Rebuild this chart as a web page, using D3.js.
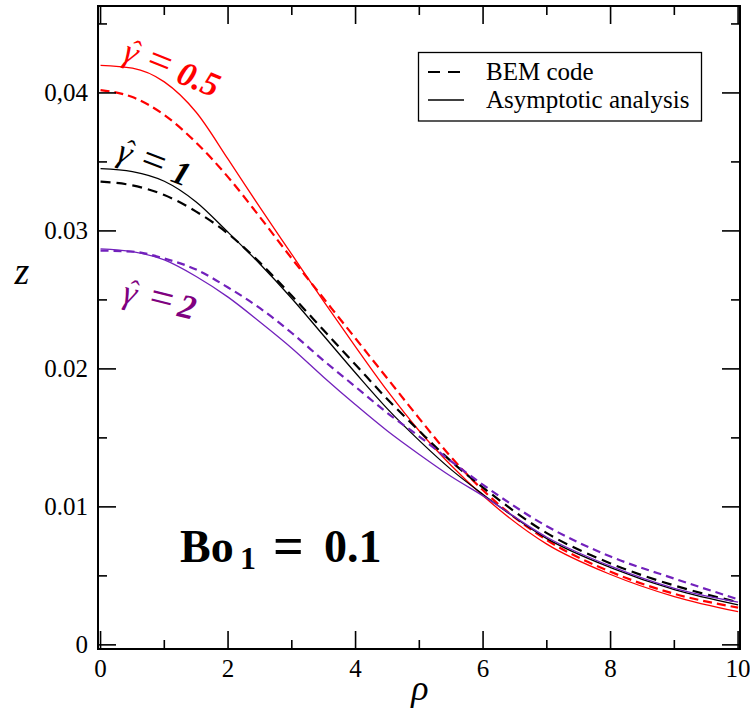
<!DOCTYPE html>
<html><head><meta charset="utf-8">
<script src="https://cdn.jsdelivr.net/npm/d3@7"></script>
<style>body{margin:0;background:#fff} text{font-family:"Liberation Serif","Tinos","Times New Roman","Nimbus Roman","DejaVu Serif",serif;}</style>
</head><body>
<svg id="c" width="750" height="709"></svg>
<script>
// ---- data ----
const rho   = [0, 0.5, 1, 1.5, 2, 2.5, 3, 3.5, 4, 4.5, 5, 5.5, 6, 7, 8, 9, 10];
const asy05 = [0.0420, 0.0418, 0.0408, 0.0386, 0.0352, 0.0317, 0.0283, 0.0249, 0.0216, 0.0184, 0.0155, 0.0130, 0.0108, 0.0073, 0.0051, 0.0035, 0.0024];
const bem05 = [0.0402, 0.0397, 0.0384, 0.0364, 0.0339, 0.0310, 0.0280, 0.0251, 0.0222, 0.0193, 0.0164, 0.0136, 0.0112, 0.0076, 0.0053, 0.0037, 0.0027];
const asy1  = [0.03452, 0.0343, 0.0336, 0.0321, 0.0299, 0.0276, 0.0251, 0.0224, 0.0197, 0.0171, 0.0148, 0.0127, 0.0109, 0.0077, 0.0056, 0.0040, 0.0029];
const bem1  = [0.03357, 0.0333, 0.0326, 0.0314, 0.0298, 0.0277, 0.0253, 0.0228, 0.0203, 0.0178, 0.0155, 0.0133, 0.0114, 0.0081, 0.0059, 0.0043, 0.0031];
const asy2  = [0.0287, 0.0285, 0.0279, 0.0267, 0.0252, 0.0234, 0.0215, 0.0194, 0.0174, 0.0155, 0.0138, 0.0122, 0.0108, 0.0078, 0.0057, 0.0041, 0.0031];
const bem2  = [0.02857, 0.0285, 0.0280, 0.0272, 0.0259, 0.0244, 0.0226, 0.0206, 0.0187, 0.0168, 0.0151, 0.0133, 0.0116, 0.0086, 0.0064, 0.0048, 0.0033];
const xTicks = [0, 2, 4, 6, 8, 10];
const xTickLabels = ["0", "2", "4", "6", "8", "10"];
const yTicks = [0, 0.01, 0.02, 0.03, 0.04];
const yTickLabels = ["0", "0.01", "0.02", "0.03", "0,04"];
const legendLabels = ["BEM code", "Asymptotic analysis"];

const RED = "#ff0000", BLACK = "#000000", PURPLE = "#7221bc", PURPLE_TXT = "#800080";
const series = [
  {y: asy05, color: RED, dash: null},
  {y: bem05, color: RED, dash: "9,5"},
  {y: asy1, color: BLACK, dash: null},
  {y: bem1, color: BLACK, dash: "10,6"},
  {y: asy2, color: PURPLE, dash: null},
  {y: bem2, color: PURPLE, dash: "8,5"}
];

const svg = d3.select("#c");
const L = 98, R = 740, T = 6, B = 649;
const x = d3.scaleLinear().domain([-0.04, 10.03]).range([L, R]);
const y = d3.scaleLinear().domain([-0.0003, 0.0463]).range([B, T]);

const g = svg.append("g");
svg.append("clipPath").attr("id", "clp").append("rect")
  .attr("x", L).attr("y", T).attr("width", R - L).attr("height", B - T);

const line = d3.line().x((d, i) => x(rho[i])).y(d => y(d)).curve(d3.curveMonotoneX);
g.append("g").attr("clip-path", "url(#clp)").selectAll("path").data(series).join("path")
  .attr("d", s => line(s.y))
  .attr("fill", "none")
  .attr("stroke", s => s.color)
  .attr("stroke-width", s => s.dash ? 2.2 : 1.3)
  .attr("stroke-dasharray", s => s.dash);

// ticks (inward, all four sides)
const xMinor = d3.range(1, 10, 2);
const yMinor = [0.005, 0.015, 0.025, 0.035, 0.045];
const tk = g.append("g").attr("stroke", "#000").attr("stroke-width", 1.6);
xTicks.forEach(v => {
  tk.append("line").attr("x1", x(v)).attr("x2", x(v)).attr("y1", B).attr("y2", B - 18);
  tk.append("line").attr("x1", x(v)).attr("x2", x(v)).attr("y1", T).attr("y2", T + 18);
});
xMinor.forEach(v => {
  tk.append("line").attr("x1", x(v)).attr("x2", x(v)).attr("y1", B).attr("y2", B - 9);
  tk.append("line").attr("x1", x(v)).attr("x2", x(v)).attr("y1", T).attr("y2", T + 9);
});
yTicks.forEach(v => {
  tk.append("line").attr("x1", L).attr("x2", L + 18).attr("y1", y(v)).attr("y2", y(v));
  tk.append("line").attr("x1", R).attr("x2", R - 18).attr("y1", y(v)).attr("y2", y(v));
});
yMinor.forEach(v => {
  tk.append("line").attr("x1", L).attr("x2", L + 9).attr("y1", y(v)).attr("y2", y(v));
  tk.append("line").attr("x1", R).attr("x2", R - 9).attr("y1", y(v)).attr("y2", y(v));
});

// frame
g.append("rect").attr("x", L).attr("y", T).attr("width", R - L).attr("height", B - T)
  .attr("fill", "none").attr("stroke", "#000").attr("stroke-width", 2);

// tick labels
g.append("g").selectAll("text").data(xTicks).join("text")
  .attr("x", d => x(d)).attr("y", 677).attr("text-anchor", "middle")
  .attr("font-size", 25)
  .text((d, i) => xTickLabels[i]);
g.append("g").selectAll("text").data(yTicks).join("text")
  .attr("x", 88).attr("y", d => y(d) + 8).attr("text-anchor", "end")
  .attr("font-size", 25)
  .text((d, i) => yTickLabels[i]);

// axis titles
g.append("text").attr("x", 420).attr("y", 700).attr("text-anchor", "middle")
  .attr("font-style", "italic").attr("font-size", 36).text("ρ");
g.append("text").attr("x", 22).attr("y", 284).attr("text-anchor", "middle")
  .attr("font-style", "italic").attr("font-size", 38).text("z");

// legend
const lg = g.append("g");
lg.append("rect").attr("x", 418.5).attr("y", 52.5).attr("width", 283).attr("height", 68.5)
  .attr("fill", "#fff").attr("stroke", "#000").attr("stroke-width", 1.3);
lg.append("line").attr("x1", 428).attr("x2", 464).attr("y1", 72).attr("y2", 72)
  .attr("stroke", "#000").attr("stroke-width", 2.2).attr("stroke-dasharray", "12,8");
lg.append("line").attr("x1", 428).attr("x2", 464).attr("y1", 100).attr("y2", 100)
  .attr("stroke", "#000").attr("stroke-width", 1.3);
lg.append("text").attr("x", 486).attr("y", 80).attr("font-size", 25).text(legendLabels[0]);
lg.append("text").attr("x", 486).attr("y", 108).attr("font-size", 25).text(legendLabels[1]);

// curve annotations
function ann(tx, ty, ang, color, num, eqX, numX) {
  const a = g.append("g").attr("transform", `translate(${tx},${ty}) rotate(${ang})`)
    .attr("fill", color).attr("font-size", 34);
  a.append("text").attr("x", 0).attr("y", 0).attr("font-style", "italic").text("γ");
  a.append("text").attr("x", 5).attr("y", -5).attr("font-size", 28).text("ˆ");
  a.append("text").attr("x", eqX).attr("y", 0).attr("font-size", 42).text("=");
  a.append("text").attr("x", numX).attr("y", 0).attr("font-style", "italic").attr("font-weight", "bold").text(num);
}
ann(121, 60, 22, RED, "0.5", 25, 58);
ann(115, 160, 21, BLACK, "1", 25, 58);
ann(121, 302, 14, PURPLE_TXT, "2", 27, 57);

// Bo label
const bo = g.append("text").attr("font-weight", "bold").attr("font-size", 46).attr("fill", "#000");
bo.append("tspan").attr("x", 180).attr("y", 562).text("Bo");
bo.append("tspan").attr("x", 240).attr("y", 569).attr("font-size", 32).text("1");
bo.append("tspan").attr("x", 273).attr("y", 564).attr("font-size", 54).text("=");
bo.append("tspan").attr("x", 324).attr("y", 562).text("0.1");
</script>
</body></html>
